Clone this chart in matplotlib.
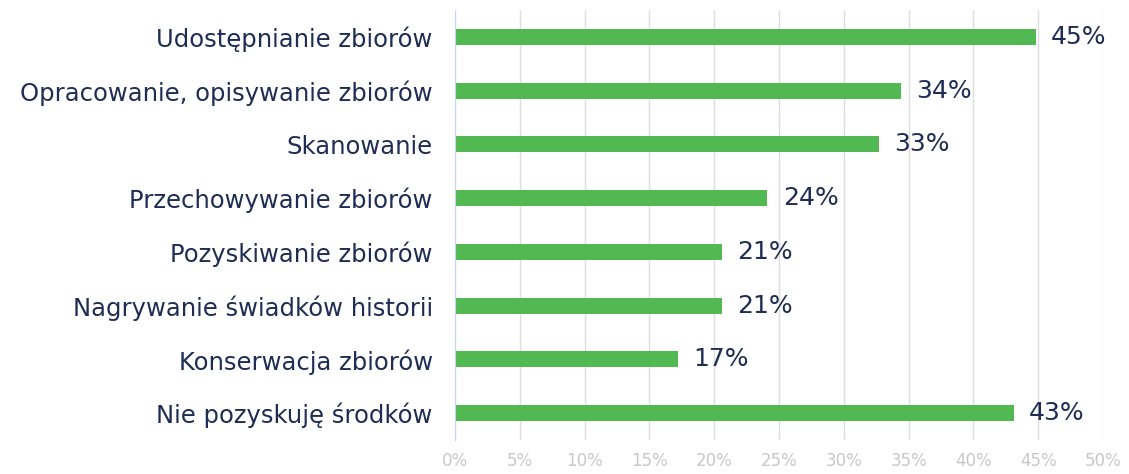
import matplotlib.pyplot as plt

categories = ["Udostępnianie zbiorów", "Opracowanie, opisywanie zbiorów", "Skanowanie",
              "Przechowywanie zbiorów", "Pozyskiwanie zbiorów", "Nagrywanie świadków historii",
              "Konserwacja zbiorów", "Nie pozyskuję środków"]
values = [44.8, 34.4, 32.7, 24.1, 20.6, 20.6, 17.2, 43.1]
labels = ["45%", "34%", "33%", "24%", "21%", "21%", "17%", "43%"]
ticks = [0, 5, 10, 15, 20, 25, 30, 35, 40, 45, 50]

plt.rcParams['font.family'] = ['DejaVu Sans']
navy = '#1f2d55'

fig = plt.figure(figsize=(11.29, 4.74), dpi=100)
ax = fig.add_axes([455 / 1129, 34 / 474, 648 / 1129, 430 / 474])

pos = list(range(len(categories)))
ax.barh(pos, values, height=0.3, color='#52b852', zorder=3)
for p, v, l in zip(pos, values, labels):
    ax.text(v + 1.2, p, l, va='center', ha='left', fontsize=18, color=navy)

ax.set_ylim(len(categories) - 0.5, -0.5)
ax.set_xlim(0, 50)
ax.set_yticks(pos)
ax.set_yticklabels(categories, fontsize=17.5, color=navy)
ax.set_xticks(ticks)
ax.set_xticklabels([f"{t}%" for t in ticks], fontsize=12, color='#c8c8c8')
ax.tick_params(axis='y', length=0, pad=16)
ax.tick_params(axis='x', length=0, pad=9)
ax.grid(axis='x', color='#dedede', linewidth=1, zorder=0)
for s in ['top', 'right', 'bottom']:
    ax.spines[s].set_visible(False)
ax.spines['left'].set_color('#c8d6f2')
ax.spines['left'].set_zorder(4)

fig.savefig('out.png', dpi=100)
